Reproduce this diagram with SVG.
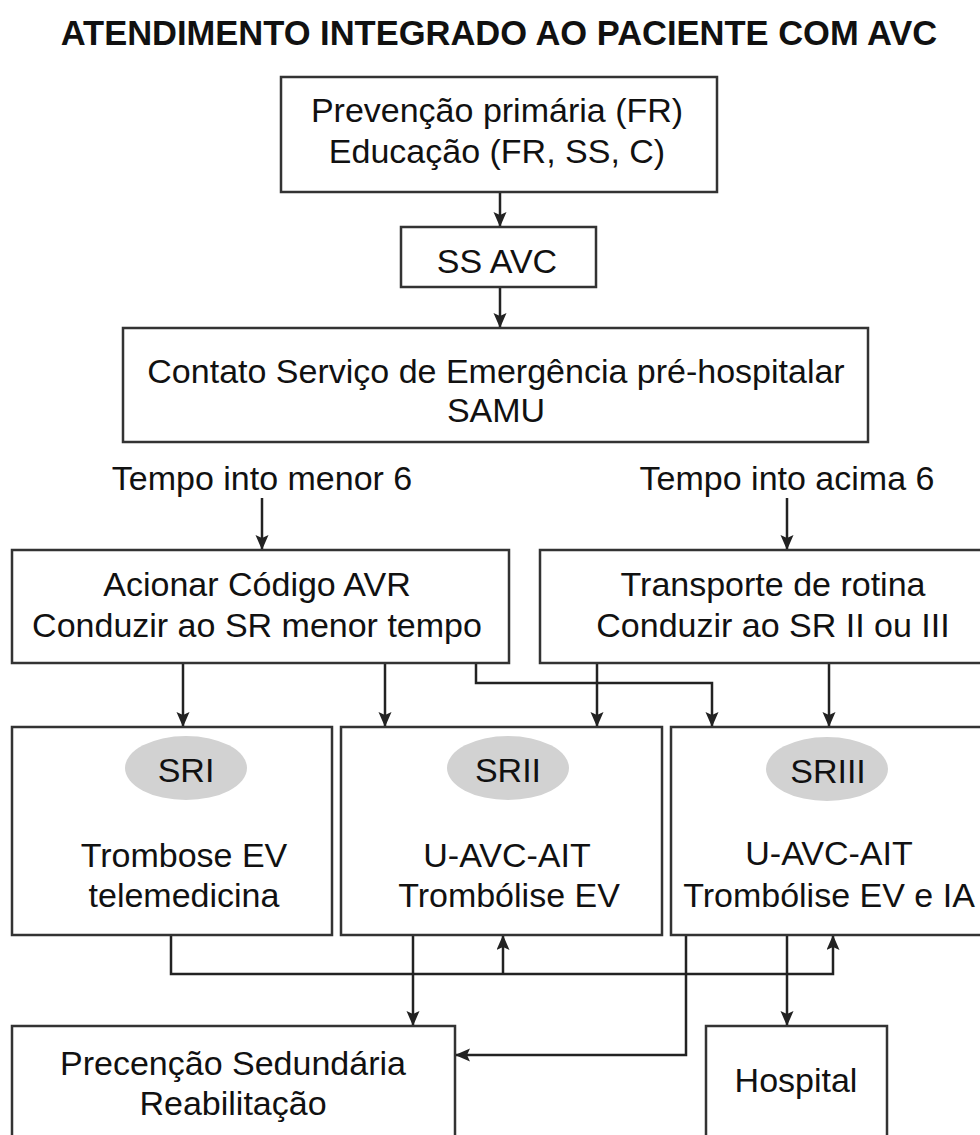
<svg xmlns="http://www.w3.org/2000/svg" width="980" height="1135" viewBox="0 0 980 1135">
<defs>
<style>
.box{fill:#fff;stroke:#333;stroke-width:2.5}
.t{font-family:"Liberation Sans",Arial,Helvetica,sans-serif;font-size:34px;fill:#111;text-anchor:middle}
.title{font-family:"Liberation Sans",Arial,Helvetica,sans-serif;font-size:34.5px;font-weight:bold;fill:#111;text-anchor:middle}
.ell{fill:#d2d2d2;stroke:none}
.c{fill:none;stroke:#222;stroke-width:2.5}
</style>
<marker id="ah" markerUnits="userSpaceOnUse" markerWidth="16" markerHeight="14" refX="15" refY="6.5" orient="auto">
<path d="M0,0 L15,6.5 L0,13 L3,6.5 z" fill="#222"/>
</marker>
</defs>
<rect width="980" height="1135" fill="#fff"/>
<text class="title" x="499" y="45">ATENDIMENTO INTEGRADO AO PACIENTE COM AVC</text>

<g id="connectors">
<line class="c" x1="500" y1="192" x2="500" y2="227" marker-end="url(#ah)"/>
<line class="c" x1="500" y1="287" x2="500" y2="328" marker-end="url(#ah)"/>
<line class="c" x1="262" y1="498" x2="262" y2="550" marker-end="url(#ah)"/>
<line class="c" x1="787" y1="498" x2="787" y2="550" marker-end="url(#ah)"/>
<line class="c" x1="183" y1="663" x2="183" y2="727" marker-end="url(#ah)"/>
<line class="c" x1="385" y1="663" x2="385" y2="727" marker-end="url(#ah)"/>
<polyline class="c" points="476,663 476,683 712,683 712,727" marker-end="url(#ah)"/>
<line class="c" x1="597" y1="663" x2="597" y2="727" marker-end="url(#ah)"/>
<line class="c" x1="829" y1="663" x2="829" y2="727" marker-end="url(#ah)"/>
<polyline class="c" points="171,935 171,974 833,974 833,935" marker-end="url(#ah)"/>
<line class="c" x1="503" y1="974" x2="503" y2="935" marker-end="url(#ah)"/>
<line class="c" x1="413" y1="935" x2="413" y2="1026" marker-end="url(#ah)"/>
<polyline class="c" points="686,935 686,1055 455,1055" marker-end="url(#ah)"/>
<line class="c" x1="787" y1="935" x2="787" y2="1026" marker-end="url(#ah)"/>
</g>

<g id="n1">
<rect class="box" x="281" y="77" width="436" height="115"/>
<text class="t" x="497" y="122">Prevenção primária (FR)</text>
<text class="t" x="497" y="163">Educação (FR, SS, C)</text>
</g>
<g id="n2">
<rect class="box" x="401" y="227" width="195" height="60"/>
<text class="t" x="497" y="273">SS AVC</text>
</g>
<g id="n3">
<rect class="box" x="123" y="328" width="745" height="114"/>
<text class="t" x="496" y="383">Contato Serviço de Emergência pré-hospitalar</text>
<text class="t" x="496" y="422">SAMU</text>
</g>
<g id="l1">
<text class="t" x="262" y="490">Tempo into menor 6</text>
</g>
<g id="l2">
<text class="t" x="787" y="490">Tempo into acima 6</text>
</g>
<g id="n4">
<rect class="box" x="12" y="550" width="497" height="113"/>
<text class="t" x="257" y="596">Acionar Código AVR</text>
<text class="t" x="257" y="637">Conduzir ao SR menor tempo</text>
</g>
<g id="n5">
<rect class="box" x="540" y="550" width="470" height="113"/>
<text class="t" x="773" y="596">Transporte de rotina</text>
<text class="t" x="773" y="637">Conduzir ao SR II ou III</text>
</g>
<g id="n6">
<rect class="box" x="12" y="727" width="320" height="208"/>
<ellipse class="ell" cx="186" cy="768" rx="61" ry="32"/>
<text class="t" x="186" y="782">SRI</text>
<text class="t" x="184" y="867">Trombose EV</text>
<text class="t" x="184" y="907">telemedicina</text>
</g>
<g id="n7">
<rect class="box" x="341" y="727" width="321" height="208"/>
<ellipse class="ell" cx="508" cy="768" rx="61" ry="32"/>
<text class="t" x="508" y="782">SRII</text>
<text class="t" x="507" y="867">U-AVC-AIT</text>
<text class="t" x="509" y="907">Trombólise EV</text>
</g>
<g id="n8">
<rect class="box" x="671" y="727" width="340" height="208"/>
<ellipse class="ell" cx="827" cy="769" rx="61" ry="32"/>
<text class="t" x="828" y="783">SRIII</text>
<text class="t" x="829" y="865">U-AVC-AIT</text>
<text class="t" x="829" y="907">Trombólise EV e IA</text>
</g>
<g id="n9">
<rect class="box" x="12" y="1026" width="443" height="130"/>
<text class="t" x="233" y="1075">Precenção Sedundária</text>
<text class="t" x="233" y="1115">Reabilitação</text>
</g>
<g id="n10">
<rect class="box" x="706" y="1026" width="181" height="130"/>
<text class="t" x="796" y="1092">Hospital</text>
</g>
</svg>
